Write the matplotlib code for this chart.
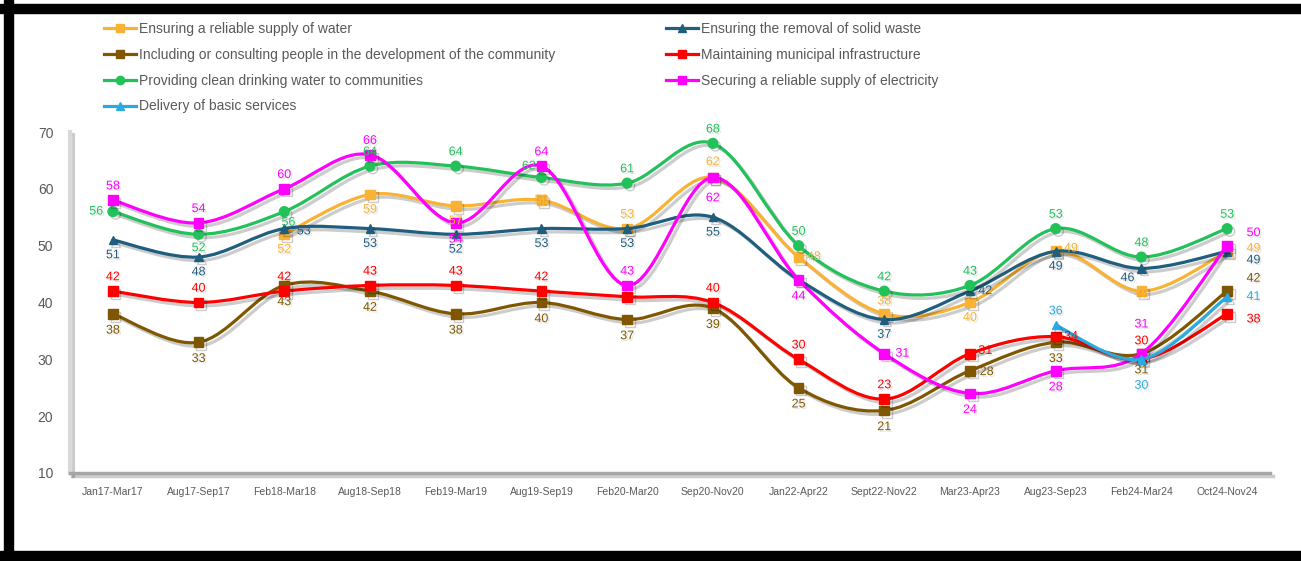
import numpy as np
import matplotlib
matplotlib.use('Agg')
import matplotlib.pyplot as plt
import matplotlib.patheffects as pe
from matplotlib.path import Path
from matplotlib.patches import PathPatch, Rectangle
from matplotlib.lines import Line2D

nan = np.nan

periods = ['Jan17-Mar17', 'Aug17-Sep17', 'Feb18-Mar18', 'Aug18-Sep18', 'Feb19-Mar19',
           'Aug19-Sep19', 'Feb20-Mar20', 'Sep20-Nov20', 'Jan22-Apr22', 'Sept22-Nov22',
           'Mar23-Apr23', 'Aug23-Sep23', 'Feb24-Mar24', 'Oct24-Nov24']

water = [nan, nan, 52, 59, 57, 58, 53, 62, 48, 38, 40, 49, 42, 49]
waste = [51, 48, 53, 53, 52, 53, 53, 55, 44, 37, 42, 49, 46, 49]
consult = [38, 33, 43, 42, 38, 40, 37, 39, 25, 21, 28, 33, 31, 42]
infra = [42, 40, 42, 43, 43, 42, 41, 40, 30, 23, 31, 34, 30, 38]
drinking = [56, 52, 56, 64, 64, 62, 61, 68, 50, 42, 43, 53, 48, 53]
electricity = [58, 54, 60, 66, 54, 64, 43, 62, 44, 31, 24, 28, 31, 50]
services = [nan] * 11 + [36, 30, 41]

names = ['Ensuring a reliable supply of water',
         'Ensuring the removal of solid waste',
         'Including or consulting people in the development of the community',
         'Maintaining municipal infrastructure',
         'Providing clean drinking water to communities',
         'Securing a reliable supply of electricity',
         'Delivery of basic services']

series = [water, waste, consult, infra, drinking, electricity, services]
colors = ['#F9B233', '#1F5E7E', '#7F5700', '#FF0000', '#22C15A', '#FF00FF', '#29ABE2']
markers = ['s', '^', 's', 's', 'o', 's', '^']

# label placement per series: default (dx, dy) in points, plus overrides by index
label_default = [(0, -11), (0, -11), (0, -12), (0, 10), (0, 10), (0, 10), (0, 10)]
label_over = {
    0: {5: (0, 0), 6: (0, 10), 7: (0, 11), 8: (11, 0), 9: (0, 9), 11: (11, 2), 12: (0, -2), 13: (19, 2)},
    1: {2: (14, -2), 8: None, 10: (11, 0), 12: (-10, -7), 13: (19, -6.5)},
    2: {10: (12, -1), 12: (0, -12), 13: (19, 9)},
    3: {6: None, 10: (11, 2), 11: (11, 0), 12: (0, 13), 13: (19, -4)},
    4: {0: (-12, 0), 1: (0, -10), 2: (3, -8), 5: (-9, 8)},
    5: {4: (0, -12), 7: (0, -15), 8: (0, -12), 9: (13, 0), 10: (0, -12), 11: (0, -12),
        12: (0, 21), 13: (19, 9)},
    6: {12: (0, -19), 13: (19, 0)},
}

plt.rcParams['font.family'] = ['Liberation Sans', 'DejaVu Sans']

fig = plt.figure(figsize=(13.01, 5.61), dpi=100)
ax = fig.add_axes([70 / 1301, 1 - 473 / 561, 1200 / 1301, 341 / 561])

shadow = [pe.SimpleLineShadow(offset=(2.5, -2.5), shadow_color='k', alpha=0.2), pe.Normal()]
tshadow = [pe.SimplePatchShadow(offset=(1.2, -1.2), shadow_rgbFace='k', alpha=0.1), pe.Normal()]


def smooth_path(xs, ys):
    # cubic Bezier segments through the points (Catmull-Rom style, like Excel smoothing)
    verts, codes = [], []
    n = len(xs)
    for i in range(n):
        if i == 0:
            verts.append((xs[0], ys[0]))
            codes.append(Path.MOVETO)
            continue
        x0, y0 = (xs[i - 2], ys[i - 2]) if i >= 2 else (xs[i - 1], ys[i - 1])
        x1, y1 = xs[i - 1], ys[i - 1]
        x2, y2 = xs[i], ys[i]
        x3, y3 = (xs[i + 1], ys[i + 1]) if i + 1 < n else (xs[i], ys[i])
        c1 = (x1 + (x2 - x0) / 6, y1 + (y2 - y0) / 6)
        c2 = (x2 - (x3 - x1) / 6, y2 - (y3 - y1) / 6)
        verts += [c1, c2, (x2, y2)]
        codes += [Path.CURVE4] * 3
    return Path(verts, codes)


x = np.arange(len(periods))
handles = []
for k, vals in enumerate(series):
    v = np.array(vals, dtype=float)
    ok = ~np.isnan(v)
    xs, ys = x[ok], v[ok]
    patch = PathPatch(smooth_path(xs, ys), facecolor='none', edgecolor=colors[k],
                      lw=2.3, zorder=2 + k, capstyle='round')
    patch.set_path_effects(shadow)
    ax.add_patch(patch)
    ax.plot(xs, ys, ls='none', marker=markers[k], ms=7 if markers[k] != '^' else 6,
            color=colors[k], zorder=3 + k,
            path_effects=[pe.SimpleLineShadow(offset=(2, -2), alpha=0.2), pe.Normal()])
    for i in np.where(ok)[0]:
        off = label_over.get(k, {}).get(i, label_default[k])
        if off is None:
            continue
        ax.annotate(f'{int(v[i])}', (x[i], v[i]), xytext=off, textcoords='offset points',
                    ha='center', va='center', fontsize=9, color=colors[k], zorder=20,
                    path_effects=tshadow)
    handles.append(Line2D([], [], color=colors[k], lw=2.3, marker=markers[k], ms=6))

ax.set_xlim(-0.5, len(periods) - 0.5)
ax.set_ylim(10, 70)
ax.set_yticks(range(10, 71, 10))
ax.set_xticks(x)
ax.set_xticklabels(periods, fontsize=7.5, color='#595959')
ax.tick_params(axis='both', length=0)
ax.tick_params(axis='y', labelsize=10, labelcolor='#595959', pad=12)
ax.tick_params(axis='x', pad=10)
for s in ['top', 'right']:
    ax.spines[s].set_visible(False)
ax.spines['left'].set_color('#D9D9D9')
ax.spines['left'].set_linewidth(3)
ax.spines['bottom'].set_color('#A6A6A6')
ax.spines['bottom'].set_linewidth(2.5)
for s in ['left', 'bottom']:
    ax.spines[s].set_path_effects(shadow)

order = [0, 2, 4, 6, 1, 3, 5]
leg = fig.legend([handles[i] for i in order], [names[i] for i in order], ncol=2,
                 loc='upper left', bbox_to_anchor=(97 / 1301, 1 - 15 / 561), frameon=False,
                 fontsize=10, handlelength=2.3, handletextpad=0.2, labelspacing=0.85,
                 columnspacing=8.0, borderpad=0)
for t in leg.get_texts():
    t.set_color('#595959')

# black frame bands (left, top, bottom)
fig.patches.append(Rectangle((4 / 1301, 0), 9 / 1301, 1, transform=fig.transFigure,
                             color='black', zorder=50))
fig.patches.append(Rectangle((0, 1 - 13 / 561), 1, 9 / 561, transform=fig.transFigure,
                             color='black', zorder=50))
fig.patches.append(Rectangle((0, 0), 1, 10 / 561, transform=fig.transFigure,
                             color='black', zorder=50))

fig.savefig('out.png', dpi=100)
